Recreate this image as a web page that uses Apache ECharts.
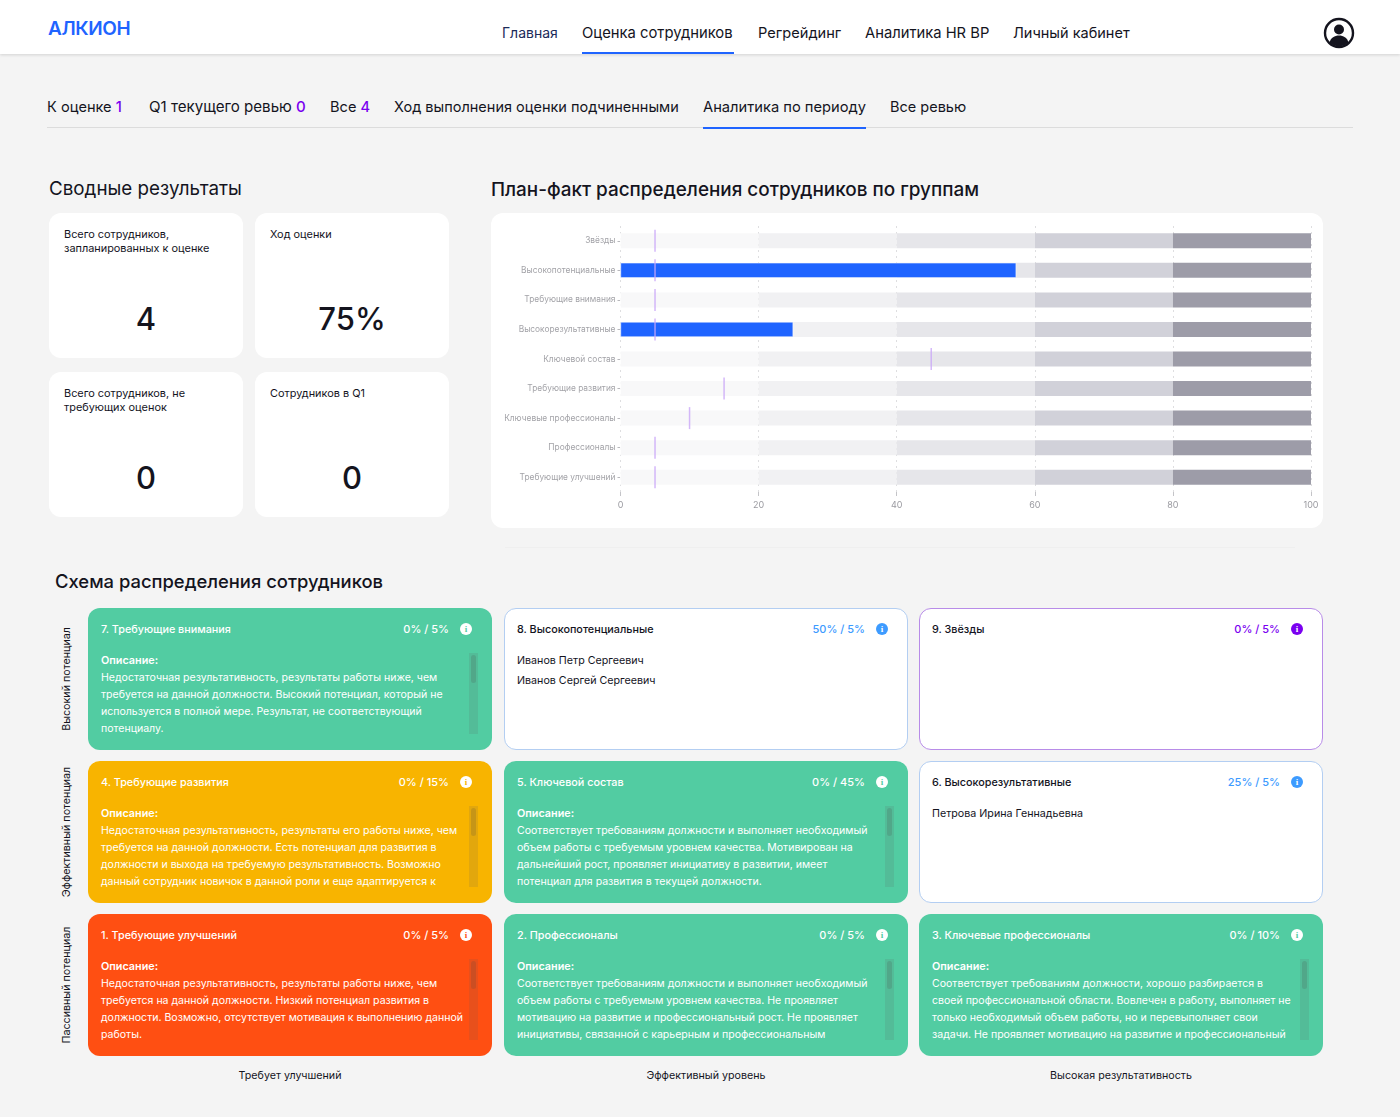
<!DOCTYPE html>
<html lang="ru">
<head>
<meta charset="utf-8" />
<title>Аналитика по периоду</title>
<script src="https://cdn.jsdelivr.net/npm/echarts@6/dist/echarts.min.js"></script>
<style>
  html, body { margin: 0; padding: 0; background: #f4f4f4; }
  body { position: relative; width: 1400px; height: 1117px; overflow: hidden; font-family: Inter, "Noto Sans", sans-serif; color: #14141e; }
  .t { position: absolute; white-space: nowrap; line-height: 20px; transform: translateY(-50%); }
  .box { position: absolute; box-sizing: border-box; }
  .purple { color: #7a00f0; font-weight: 500; }
  #header { left: 0; top: 0; width: 1400px; height: 54px; background: #fff; box-shadow: 0 1px 3px rgba(0,0,0,.14); }
  .card { background: #fff; border-radius: 12px; }
  .cell { border-radius: 12px; overflow: hidden; }
  .rot { position: absolute; white-space: nowrap; font-size: 10.7px; transform: translate(-50%,-50%) rotate(-90deg); }
  .info { position: absolute; width: 12px; height: 12px; border-radius: 50%; font: bold 9px/12px "Liberation Serif", serif; text-align: center; }
</style>
</head>
<body>
<div id="page"></div>
<div id="chartCard" class="box card" style="left:491px;top:213px;width:832px;height:315px"></div>
<div id="chart" class="box" style="left:491px;top:213px;width:832px;height:315px"></div>
<script>
// данные графика
var categories = ['Звёзды', 'Высокопотенциальные', 'Требующие внимания', 'Высокорезультативные', 'Ключевой состав', 'Требующие развития', 'Ключевые профессионалы', 'Профессионалы', 'Требующие улучшений'];
var factValues = [0, 57.3, 0, 25, 0, 0, 0, 0, 0];
var planValues = [5, 5, 5, 5, 45, 15, 10, 5, 5];
var bandSize = 20;
var bandColors = ['#f8f8f9', '#f1f1f3', '#e6e6ea', '#d1d1d9', '#9d9ca8'];

// шапка и вкладки
var navItems = [['Главная', 502, '#1c2b5a', 14], ['Оценка сотрудников', 582, '#14141e', 14.8], ['Регрейдинг', 758, '#14141e', 14.6], ['Аналитика HR BP', 865, '#14141e', 14.75], ['Личный кабинет', 1013, '#14141e', 14.5]];
var tabItems = [['К оценке', '1', 47, 14.6], ['Q1 текущего ревью', '0', 149, 15.1], ['Все', '4', 330, 14.6], ['Ход выполнения оценки подчиненными', '', 394, 14.5], ['Аналитика по периоду', '', 703, 14.7], ['Все ревью', '', 890, 14.5]];

// сводные карточки
var summaryCards = [
  [49, 213, ['Всего сотрудников,', 'запланированных к оценке'], '4'],
  [255, 213, ['Ход оценки'], '75%'],
  [49, 372, ['Всего сотрудников, не', 'требующих оценок'], '0'],
  [255, 372, ['Сотрудников в Q1'], '0']
];

// схема распределения
var green = '#52cca2', orange = '#f8b400', red = '#ff4f12';
var cells = [
  [0, 0, '7. Требующие внимания', '0% / 5%', green, ['Недостаточная результативность, результаты работы ниже, чем', 'требуется на данной должности. Высокий потенциал, который не', 'используется в полной мере. Результат, не соответствующий', 'потенциалу.']],
  [1, 0, '8. Высокопотенциальные', '50% / 5%', 'blue', ['Иванов Петр Сергеевич', 'Иванов Сергей Сергеевич']],
  [2, 0, '9. Звёзды', '0% / 5%', 'purple', []],
  [0, 1, '4. Требующие развития', '0% / 15%', orange, ['Недостаточная результативность, результаты его работы ниже, чем', 'требуется на данной должности. Есть потенциал для развития в', 'должности и выхода на требуемую результативность. Возможно', 'данный сотрудник новичок в данной роли и еще адаптируется к']],
  [1, 1, '5. Ключевой состав', '0% / 45%', green, ['Соответствует требованиям должности и выполняет необходимый', 'объем работы с требуемым уровнем качества. Мотивирован на', 'дальнейший рост, проявляет инициативу в развитии, имеет', 'потенциал для развития в текущей должности.']],
  [2, 1, '6. Высокорезультативные', '25% / 5%', 'blue', ['Петрова Ирина Геннадьевна']],
  [0, 2, '1. Требующие улучшений', '0% / 5%', red, ['Недостаточная результативность, результаты работы ниже, чем', 'требуется на данной должности. Низкий потенциал развития в', 'должности. Возможно, отсутствует мотивация к выполнению данной', 'работы.']],
  [1, 2, '2. Профессионалы', '0% / 5%', green, ['Соответствует требованиям должности и выполняет необходимый', 'объем работы с требуемым уровнем качества. Не проявляет', 'мотивацию на развитие и профессиональный рост. Не проявляет', 'инициативы, связанной с карьерным и профессиональным']],
  [2, 2, '3. Ключевые профессионалы', '0% / 10%', green, ['Соответствует требованиям должности, хорошо разбирается в', 'своей профессиональной области. Вовлечен в работу, выполняет не', 'только необходимый объем работы, но и перевыполняет свои', 'задачи. Не проявляет мотивацию на развитие и профессиональный']]
];
var rowLabels = ['Высокий потенциал', 'Эффективный потенциал', 'Пассивный потенциал'];
var colLabels = ['Требует улучшений', 'Эффективный уровень', 'Высокая результативность'];

var colX = [88, 504, 919];
var rowY = [608, 761, 914];
var html = '';

function text(x, y, str, size, extra) {
  return '<div class="t" style="left:' + x + 'px;top:' + y + 'px;font-size:' + size + 'px;' + (extra || '') + '">' + str + '</div>';
}
function rect(x, y, w, h, color) {
  return '<div class="box" style="left:' + x + 'px;top:' + y + 'px;width:' + w + 'px;height:' + h + 'px;background:' + color + '"></div>';
}

// шапка
html += '<div id="header" class="box"></div>';
html += text(48, 29, 'АЛКИОН', 19, 'font-weight:600;letter-spacing:-.4px;color:#1f64ff');
navItems.forEach(function (n) {
  html += text(n[1], 33, n[0], n[3], 'color:' + n[2]);
});
html += rect(582, 52, 152, 2, '#1f64ff');
html += '<svg class="box" style="left:1323px;top:17px" width="32" height="32" viewBox="0 0 32 32"><circle cx="16" cy="16" r="14" fill="#fff" stroke="#14141e" stroke-width="2.4"/><circle cx="16" cy="12.5" r="5" fill="#14141e"/><path d="M6.5 25.5c1.5-5 5-7 9.500-7s8 2 9.500 7a14 14 0 0 1-19 0z" fill="#14141e"/></svg>';

// вкладки
tabItems.forEach(function (t) {
  html += text(t[2], 107, t[0] + (t[1] ? ' <span class="purple">' + t[1] + '</span>' : ''), t[3]);
});
html += rect(47, 127, 1306, 1, '#dcdcdc');
html += rect(703, 127, 163, 2, '#1f64ff');

// заголовки
html += text(49, 189, 'Сводные результаты', 18.8, 'font-weight:400');
html += text(491, 190, 'План-факт распределения сотрудников по группам', 18.9, 'font-weight:450');
html += text(55, 581, 'Схема распределения сотрудников', 18.4, 'font-weight:550');
html += rect(505, 547, 790, 1, '#efefef');

// сводные карточки
summaryCards.forEach(function (c) {
  html += '<div class="box card" style="left:' + c[0] + 'px;top:' + c[1] + 'px;width:194px;height:145px"></div>';
  c[2].forEach(function (line, i) {
    html += text(c[0] + 15, c[1] + 21 + i * 14, line, 10.9);
  });
  html += text(c[0] + 97, c[1] + 106, c[3], 31, 'font-weight:500;transform:translate(-50%,-50%)');
});

// ячейки схемы
cells.forEach(function (c) {
  var x = colX[c[0]], y = rowY[c[1]];
  var outlined = c[4] === 'blue' || c[4] === 'purple';
  var accent = c[4] === 'blue' ? '#3d9bff' : '#7a00f0';
  var border = c[4] === 'blue' ? '#b3cef2' : '#b88ce8';
  var fg = outlined ? '#14141e' : '#fff';
  html += '<div class="box cell" style="left:' + x + 'px;top:' + y + 'px;width:404px;height:142px;background:' + (outlined ? '#fff;border:1px solid ' + border : c[4]) + '"></div>';
  html += text(x + 13, y + 22, c[2], 10.8, 'font-weight:500;color:' + fg);
  html += text(x + 361, y + 21, c[3], 11, 'font-weight:500;transform:translate(-100%,-50%);color:' + (outlined ? accent : '#fff'));
  html += '<div class="info" style="left:' + (x + 372) + 'px;top:' + (y + 15) + 'px;background:' + (outlined ? accent : '#fff') + ';color:' + (outlined ? '#fff' : c[4]) + '">i</div>';
  if (outlined) {
    c[5].forEach(function (line, i) {
      html += text(x + 13, y + 53 + i * 20, line, 10.7, 'color:#14141e');
    });
  } else {
    html += text(x + 13, y + 53, 'Описание:', 10.8, 'font-weight:600;color:#fff');
    c[5].forEach(function (line, i) {
      html += text(x + 13, y + 70 + i * 17, line, 10.55, 'color:#fff');
    });
    html += rect(x + 381, y + 45, 9, 81, 'rgba(90,90,90,.14)');
    html += '<div class="box" style="left:' + (x + 383) + 'px;top:' + (y + 47) + 'px;width:5px;height:28px;border-radius:3px;background:rgba(70,70,70,.18)"></div>';
  }
});

// подписи строк и столбцов схемы
rowLabels.forEach(function (s, i) {
  html += '<div class="rot" style="left:66px;top:' + (rowY[i] + 71) + 'px">' + s + '</div>';
});
colLabels.forEach(function (s, i) {
  html += text(colX[i] + 202, 1076, s, 10.7, 'transform:translate(-50%,-50%)');
});
document.getElementById('page').innerHTML = html;

// график план-факт
var chart = echarts.init(document.getElementById('chart'));
var series = bandColors.map(function (color) {
  return {
    type: 'bar',
    stack: 'bands',
    silent: true,
    barWidth: 15,
    itemStyle: { color: color },
    data: categories.map(function () { return bandSize; })
  };
});
series.push({
  type: 'bar',
  barWidth: 15,
  barGap: '-100%',
  itemStyle: { color: '#1f64ff', borderColor: '#fff', borderWidth: 0.5 },
  data: factValues
});
series.push({
  type: 'scatter',
  symbol: 'rect',
  symbolSize: [1.5, 22],
  z: 5,
  itemStyle: { color: '#c9a6f7' },
  data: planValues.map(function (v, i) { return [v, categories[i]]; })
});

var option = {
  animation: false,
  grid: { left: 129.5, right: 12, top: 13, height: 266 },
  xAxis: {
    type: 'value',
    min: 0,
    max: 100,
    interval: 20,
    axisLine: { show: false },
    axisTick: { show: true, length: 4, lineStyle: { color: '#c4c4c8' } },
    axisLabel: { color: '#9a9aa0', fontSize: 9, fontFamily: 'Inter', margin: 9 },
    splitLine: { show: true, lineStyle: { color: '#dedee0', type: [2, 4], width: 1 } }
  },
  yAxis: {
    type: 'category',
    inverse: true,
    data: categories,
    axisLine: { show: false },
    axisTick: { show: true, alignWithLabel: true, length: 3, lineStyle: { color: '#b8b8bc' } },
    axisLabel: { color: '#a3a3a8', fontSize: 8.4, fontFamily: 'Inter', margin: 5, padding: [3, 0, 0, 0] }
  },
  series: series
};
chart.setOption(option);
</script>
</body>
</html>
